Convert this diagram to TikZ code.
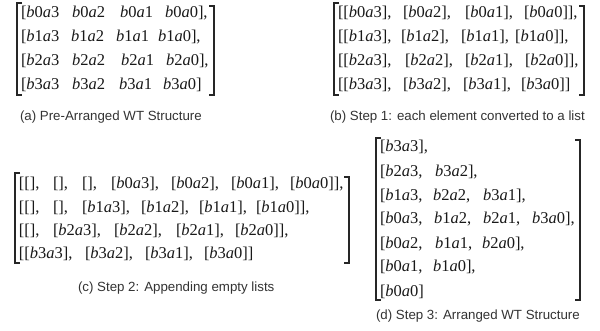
\documentclass[tikz,border=0pt]{standalone}
\usepackage{fontspec}
\setmainfont{Liberation Serif}
\newfontfamily\capfont{Liberation Sans}
\newcommand\bx[2]{\textit{b}#1\textit{a}#2}
\tikzset{
  tok/.style={anchor=base west, inner sep=0pt, outer sep=0pt, font=\fontsize{16.5}{18}\selectfont, text=black!90},
  caption/.style={anchor=base west, inner sep=0pt, outer sep=0pt, font=\capfont\fontsize{13.3}{15}\selectfont, text=black!80},
  brk/.style={draw=black!85, line width=1.1pt},
}
\newcommand\rowtoks[3]{\foreach \px/\tx [count=\k] in {#3}{\node[tok] (#1-\k) at (\px,#2) {\tx};}}
\newcommand\lbrk[3]{\draw[brk] (#1+5,#2) -- (#1,#2) -- (#1,#3) -- (#1+5,#3);}
\newcommand\rbrk[3]{\draw[brk] (#1-5,#2) -- (#1,#2) -- (#1,#3) -- (#1-5,#3);}
\begin{document}
\begin{tikzpicture}[x=1pt,y=-1pt]
\useasboundingbox[fill=white] (0,0) rectangle (600,331);
% (a)
\lbrk{17}{3}{95}
\rbrk{214}{6}{95}
\rowtoks{a1}{18}{21/{[\bx03}, 72/{\bx02}, 120/{\bx01}, 165/{\bx00],}}
\rowtoks{a2}{41.5}{21/{[\bx13}, 71/{\bx12}, 116/{\bx11}, 158/{\bx10],}}
\rowtoks{a3}{65.5}{21/{[\bx23}, 72/{\bx22}, 121/{\bx21}, 166/{\bx20],}}
\rowtoks{a4}{89.5}{21/{[\bx33}, 72/{\bx32}, 119/{\bx31}, 163/{\bx30]}}
\node[caption] (capa) at (20,120.5) {(a) Pre-Arranged WT Structure};
% (b)
\lbrk{334}{3}{95}
\rbrk{584}{6}{95}
\rowtoks{b1}{18}{338/{[[\bx03],}, 403/{[\bx02],}, 465/{[\bx01],}, 524/{[\bx00]],}}
\rowtoks{b2}{41.5}{338/{[[\bx13],}, 401/{[\bx12],}, 461/{[\bx11],}, 515/{[\bx10]],}}
\rowtoks{b3}{65.5}{338/{[[\bx23],}, 405/{[\bx22],}, 465/{[\bx21],}, 525/{[\bx20]],}}
\rowtoks{b4}{89.5}{338/{[[\bx33],}, 403/{[\bx32],}, 463/{[\bx31],}, 521/{[\bx30]]}}
\node[caption] (capb) at (330,120.5) {(b) Step 1: each element converted to a list};
% (c)
\lbrk{15}{173}{263}
\rbrk{349}{177}{263}
\rowtoks{c1}{189}{19/{[[],}, 53/{[],}, 82/{[],}, 111/{[\bx03],}, 171/{[\bx02],}, 231/{[\bx01],}, 290/{[\bx00]],}}
\rowtoks{c2}{213}{19/{[[],}, 53/{[],}, 82/{[\bx13],}, 141/{[\bx12],}, 199/{[\bx11],}, 256/{[\bx10]],}}
\rowtoks{c3}{236}{19/{[[],}, 53/{[\bx23],}, 114/{[\bx22],}, 176/{[\bx21],}, 235/{[\bx20]],}}
\rowtoks{c4}{259}{19/{[[\bx33],}, 85/{[\bx32],}, 145/{[\bx31],}, 204/{[\bx30]]}}
\node[caption] (capc) at (78,291.5) {(c) Step 2: Appending empty lists};
% (d)
\lbrk{376}{138}{300}
\rbrk{580}{140}{300}
\rowtoks{d1}{152}{380/{[\bx33],}}
\rowtoks{d2}{177}{380/{[\bx23,}, 435/{\bx32],}}
\rowtoks{d3}{201}{380/{[\bx13,}, 433/{\bx22,}, 483/{\bx31],}}
\rowtoks{d4}{224}{380/{[\bx03,}, 434/{\bx12,}, 483/{\bx21,}, 532/{\bx30],}}
\rowtoks{d5}{249}{380/{[\bx02,}, 435/{\bx11,}, 482/{\bx20],}}
\rowtoks{d6}{272}{380/{[\bx01,}, 433/{\bx10],}}
\rowtoks{d7}{296}{380/{[\bx00]}}
\node[caption] (capd) at (376,319.5) {(d) Step 3: Arranged WT Structure};
\end{tikzpicture}
\end{document}
